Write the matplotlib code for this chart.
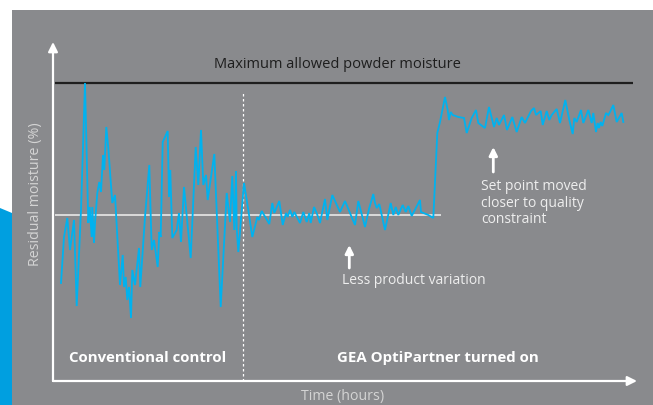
import numpy as np
import matplotlib.pyplot as plt
from matplotlib.patches import Rectangle, Polygon

# residual moisture trace (time in hours, moisture in %)
hours = [8, 11, 14.3, 17, 21, 23.7, 28, 32, 35.3, 36.7, 38.7, 39.3, 41, 42, 44.3, 46.3, 48, 50,
         51.3, 53.3, 55.3, 59.3, 62, 67, 69.7, 71, 72.7, 74.3, 76, 78, 79.3, 82, 86, 87.3, 92,
         96.3, 98.7, 101, 104.7, 106.3, 107.7, 109.7, 114.7, 116, 117.3, 119.3, 123.7, 126, 128,
         131, 137.7, 142.7, 145.3, 148, 150.3, 153, 154.7, 161.3, 167.7, 173.7, 177, 179.3, 181.3,
         183, 183.7, 185.3, 191, 195.3, 199.3, 204.3, 206, 208.7, 216.3, 219.3, 221.3, 226.3,
         229.7, 233, 234.7, 237, 239.3, 241.3, 247, 250.3, 253.7, 256.3, 257.7, 261, 263.7, 267,
         272, 274.3, 279.3, 287, 292, 302, 305.3, 312, 316, 320.3, 322, 323.7, 326.3, 332, 337.7,
         340.3, 342.7, 345.3, 349.7, 352.7, 355.3, 358.7, 367, 368, 375.3, 380.3, 384.3, 387, 392,
         394.7, 396, 397.7, 399.7, 405.3, 411, 413.7, 418.7, 423, 425.3, 432, 436, 441, 443.7,
         446, 451, 454, 459.3, 463.7, 468.7, 472, 478, 481, 483, 487.7, 489.7, 493.7, 496.3,
         498.7, 503.7, 507, 512.3, 516.3, 519.7, 521.3, 523.7, 528, 530.3, 535.3, 538.7, 540.3,
         543, 544.7, 546, 547.7, 549.3, 553, 555.3, 557, 560.3, 563.7, 568.7, 570.3]
moisture = [2.98, 3.44, 3.63, 3.31, 3.61, 2.75, 3.71, 4.98, 3.58, 3.74, 3.44, 3.74, 3.38, 3.58,
            3.88, 3.99, 3.89, 4.26, 4.11, 4.54, 4.33, 3.78, 3.86, 2.96, 3.26, 2.94, 3.04, 2.81,
            2.94, 2.63, 3.11, 2.96, 3.33, 2.94, 3.64, 4.16, 3.31, 3.41, 3.14, 3.49, 3.44, 4.39,
            4.50, 3.84, 4.11, 3.43, 3.51, 3.68, 3.39, 3.94, 3.23, 4.34, 3.96, 4.51, 3.96, 4.06,
            3.81, 4.27, 2.74, 3.88, 3.59, 4.05, 3.51, 4.10, 3.53, 3.29, 3.98, 3.71, 3.44, 3.64,
            3.61, 3.70, 3.57, 3.78, 3.68, 3.80, 3.56, 3.68, 3.64, 3.71, 3.64, 3.69, 3.58, 3.69,
            3.59, 3.68, 3.58, 3.74, 3.68, 3.58, 3.82, 3.61, 3.86, 3.69, 3.80, 3.56, 3.80, 3.54,
            3.72, 3.87, 3.78, 3.73, 3.77, 3.51, 3.78, 3.66, 3.74, 3.66, 3.76, 3.69, 3.75, 3.65,
            3.81, 3.69, 3.66, 3.63, 4.48, 4.59, 4.84, 4.71, 4.61, 4.69, 4.66, 4.64, 4.63, 4.48,
            4.63, 4.71, 4.58, 4.53, 4.74, 4.54, 4.63, 4.56, 4.66, 4.51, 4.64, 4.49, 4.64, 4.58,
            4.70, 4.73, 4.66, 4.70, 4.56, 4.70, 4.61, 4.66, 4.72, 4.58, 4.81, 4.61, 4.47, 4.63,
            4.59, 4.71, 4.58, 4.71, 4.58, 4.68, 4.49, 4.58, 4.53, 4.59, 4.55, 4.68, 4.66, 4.69,
            4.76, 4.59, 4.68, 4.59]

max_moisture = 4.98
setpoint = 3.66
switch_time = 190

W, H = 653, 405
def fx(px): return px / W
def fy(py): return 1 - py / H

grey = '#898a8d'
blue = '#00b2ef'
plt.rcParams['font.family'] = ['Open Sans', 'DejaVu Sans']

fig = plt.figure(figsize=(W / 100, H / 100), dpi=100)
fig.patch.set_facecolor('white')
fig.patches.append(Rectangle((fx(12), 0), 1 - fx(12), fy(10), transform=fig.transFigure,
                             facecolor=grey, edgecolor='none', zorder=-2))
fig.patches.append(Polygon([(0, fy(208)), (fx(12), fy(213)), (fx(12), 0), (0, 0)],
                           closed=True, transform=fig.transFigure,
                           facecolor='#009fe0', edgecolor='none', zorder=-2))

ax = fig.add_axes([fx(53), fy(381), 584 / W, 339 / H])
ax.set_xlim(0, 584)
ax.set_ylim(2.0, 5.39)
ax.patch.set_visible(False)
ax.axis('off')

# axes arrows
arrow_kw = dict(arrowstyle='-|>', color='white', lw=1.6, mutation_scale=14, shrinkA=0, shrinkB=0)
ax.annotate('', xy=(0, 1), xytext=(0, 0), xycoords='axes fraction', arrowprops=arrow_kw)
ax.annotate('', xy=(1, 0), xytext=(0, 0), xycoords='axes fraction', arrowprops=arrow_kw)

ax.hlines(max_moisture, 2, 580, color='#1e1e1e', lw=1.6)
ax.hlines(setpoint, 2, 388, color='#e8e8e8', lw=1.2)
ax.vlines(switch_time, 2.0, 4.89, colors='white', linestyles=(0, (2, 2)), lw=0.9)

ax.plot(hours, moisture, color=blue, lw=1.3, solid_joinstyle='miter')

ax.text(284, 5.16, 'Maximum allowed powder moisture', ha='center', va='center',
        fontsize=10.5, color='#1e1e1e')

note_arrow = dict(arrowstyle='-|>', color='white', lw=2, mutation_scale=12, shrinkA=0, shrinkB=0)
ax.annotate('', xy=(296.3, 3.36), xytext=(296.3, 3.13), arrowprops=note_arrow)
ax.text(288.7, 3.01, 'Less product variation', ha='left', va='center', fontsize=10, color='#eeeeee')

ax.annotate('', xy=(440.3, 4.34), xytext=(440.3, 4.09), arrowprops=note_arrow)
ax.text(428, 4.02, 'Set point moved\ncloser to quality\nconstraint', ha='left', va='top',
        fontsize=10, color='#eeeeee', linespacing=1.15)

fig.text(fx(148), fy(358), 'Conventional control', ha='center', va='center',
         fontsize=10.8, fontweight='bold', color='white')
fig.text(fx(438), fy(358), 'GEA OptiPartner turned on', ha='center', va='center',
         fontsize=10.8, fontweight='bold', color='white')
fig.text(fx(36), fy(194), 'Residual moisture (%)', ha='center', va='center', rotation=90,
         fontsize=10.3, color='#d4d4d4')
fig.text(fx(343), fy(404), 'Time (hours)', ha='center', va='bottom',
         fontsize=10.2, color='#d4d4d4')

fig.savefig('out.png', dpi=100)
